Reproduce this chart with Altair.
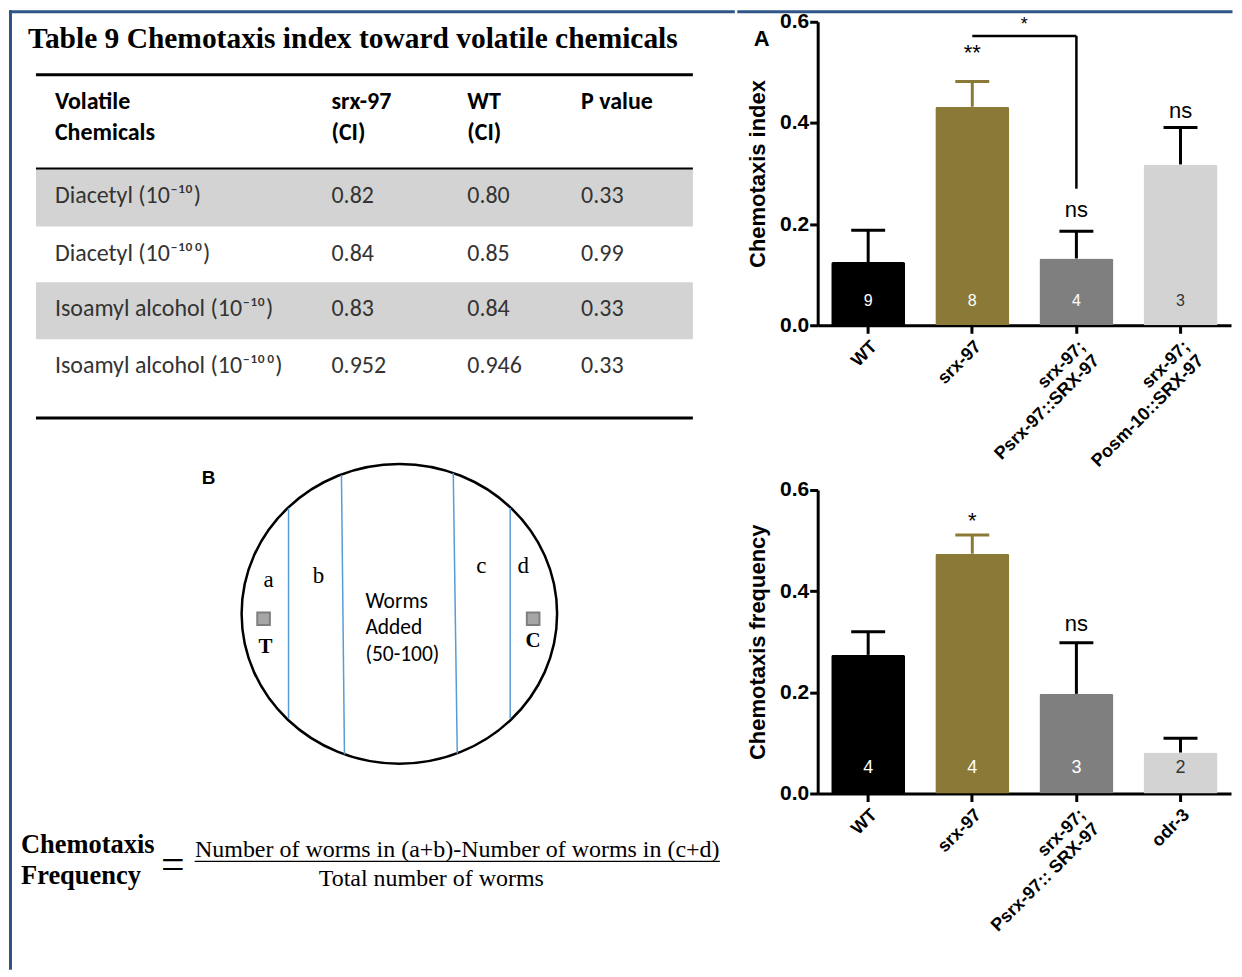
import altair as alt
import pandas as pd

# ---------------- data (content) ----------------
table_title = "Table 9 Chemotaxis index toward volatile chemicals"
table_headers = ["Volatile\nChemicals", "srx-97\n(CI)", "WT\n(CI)", "P value"]
chemicals = ["Diacetyl (10⁻¹⁰)", "Diacetyl (10⁻¹⁰⁰)",
             "Isoamyl alcohol (10⁻¹⁰)", "Isoamyl alcohol (10⁻¹⁰⁰)"]
srx97_ci = ["0.82", "0.84", "0.83", "0.952"]
wt_ci = ["0.80", "0.85", "0.84", "0.946"]
p_values = ["0.33", "0.99", "0.33", "0.33"]

panel_B_label = "B"
zone_letters = ["a", "b", "c", "d"]
spot_letters = ["T", "C"]
plate_center_text = ["Worms", "Added", "(50-100)"]
formula_lhs = ["Chemotaxis", "Frequency"]
formula_eq = "="
formula_num = "Number of worms in (a+b)-Number of worms in (c+d)"
formula_den = "Total number of worms"

panel_A_label = "A"
genotypes_A = ["WT", "srx-97", "srx-97;\nPsrx-97::SRX-97", "srx-97;\nPosm-10::SRX-97"]
ci_mean_A = [0.125, 0.432, 0.132, 0.318]
ci_sem_A = [0.063, 0.050, 0.054, 0.073]
n_A = ["9", "8", "4", "3"]
sig_A = ["", "**", "ns", "ns"]
sig_level_A = [0.0, 0.539, 0.227, 0.424]
bracket_A = {"from": "srx-97", "to": "srx-97;\nPsrx-97::SRX-97", "top": 0.572, "end": 0.270,
             "label": "*", "label_y": 0.594}

genotypes_B = ["WT", "srx-97", "srx-97;\nPsrx-97:: SRX-97", "odr-3"]
cf_mean_B = [0.274, 0.474, 0.197, 0.081]
cf_sem_B = [0.046, 0.037, 0.101, 0.028]
n_B = ["4", "4", "3", "2"]
sig_B = ["", "*", "ns", ""]
sig_level_B = [0.0, 0.539, 0.336, 0.0]

y_ticks = [0.0, 0.2, 0.4, 0.6]

# ---------------- style ----------------
bar_colors = ["#000000", "#8b7a37", "#7f7f7f", "#d3d3d3"]
err_colors = ["#000000", "#8b7a37", "#000000", "#000000"]
n_colors = ["#ffffff", "#ffffff", "#ffffff", "#333333"]
border_color = "#2f5587"
row_gray = "#d3d3d3"
line_blue = "#5b9bd5"
SERIF = "Liberation Serif"
SANS_T = "Carlito, Lato, Open Sans"
ARIAL = "Liberation Sans"

# ---------------- left panel layout (pixel-like canvas) ----------------
TOP = 13            # canvas units kept above the plot origins
FRAME_Y = 3         # frame line level on the canvas
WL, HL_END = 727, 961
xs = alt.Scale(domain=[0, WL], nice=False, zero=False)
ys = alt.Scale(domain=[TOP, HL_END], reverse=True, nice=False, zero=False)
X = alt.X("x:Q", scale=xs, axis=None)
Y = alt.Y("y:Q", scale=ys, axis=None)

col_x = [46, 323, 459, 573]
head_y = [93, 124]
row_y = [188, 246, 301, 358]
row_band = [(160, 218), (218, 274), (274, 331), (331, 388)]


def text_layer(rows, **kw):
    return alt.Chart(pd.DataFrame(rows)).mark_text(**kw).encode(x=X, y=Y, text="t:N")


layers = []
# frame lines
layers.append(alt.Chart(pd.DataFrame([
    {"x": 1.5, "x2": WL - 1.5, "y": FRAME_Y, "y2": FRAME_Y},
    {"x": 1.5, "x2": 1.5, "y": FRAME_Y, "y2": HL_END},
])).mark_rule(color=border_color, strokeWidth=3, strokeCap="square").encode(
    x=X, x2="x2:Q", y=Y, y2="y2:Q"))

# gray bands of the table
layers.append(alt.Chart(pd.DataFrame([
    {"x": 27, "x2": 685, "y": row_band[i][0], "y2": row_band[i][1]} for i in (0, 2)
])).mark_rect(color=row_gray).encode(x=X, x2="x2:Q", y=Y, y2="y2:Q"))

# table rules
layers.append(alt.Chart(pd.DataFrame([
    {"x": 27, "x2": 685, "y": 66, "w": 3},
    {"x": 27, "x2": 685, "y": 160, "w": 2},
    {"x": 27, "x2": 685, "y": 410, "w": 3},
])).mark_rule(color="#000000").encode(x=X, x2="x2:Q", y=Y,
                                       strokeWidth=alt.StrokeWidth("w:Q", scale=None)))

layers.append(text_layer([{"x": 19, "y": 30, "t": table_title}],
                         font=SERIF, fontSize=29.5, fontWeight="bold", align="left",
                         baseline="middle", color="#000000"))

head_rows = []
for c, h in enumerate(table_headers):
    for k, line in enumerate(h.split("\n")):
        head_rows.append({"x": col_x[c], "y": head_y[k], "t": line})
layers.append(text_layer(head_rows, font=SANS_T, fontSize=24, fontWeight="bold",
                         align="left", baseline="middle", color="#000000"))

body_rows = []
for r in range(len(chemicals)):
    for c, col in enumerate([chemicals, srx97_ci, wt_ci, p_values]):
        body_rows.append({"x": col_x[c], "y": row_y[r], "t": col[r]})
layers.append(text_layer(body_rows, font=SANS_T, fontSize=24, align="left",
                         baseline="middle", color="#333333"))

# diagram B
layers.append(text_layer([{"x": 193, "y": 470, "t": panel_B_label}], font=ARIAL,
                         fontSize=19, fontWeight="bold", align="left", baseline="middle"))
layers.append(alt.Chart(pd.DataFrame([{"x": 391, "y": 606}])).mark_point(
    shape="M-1,0A1,0.95,0,1,1,1,0A1,0.95,0,1,1,-1,0Z", size=316 * 316, filled=False,
    stroke="#000000", strokeWidth=2.5, opacity=1).encode(x=X, y=Y))
layers.append(alt.Chart(pd.DataFrame([
    {"x": 280, "y": 500, "x2": 280, "y2": 711},
    {"x": 333, "y": 467, "x2": 336, "y2": 747},
    {"x": 445, "y": 465, "x2": 449, "y2": 746},
    {"x": 502, "y": 500, "x2": 502, "y2": 711},
])).mark_rule(color=line_blue, strokeWidth=1.5).encode(x=X, x2="x2:Q", y=Y, y2="y2:Q"))
layers.append(alt.Chart(pd.DataFrame([{"x": 255, "y": 611}, {"x": 525, "y": 611}])).mark_square(
    size=160, color="#a6a6a6", stroke="#7f7f7f", strokeWidth=2, opacity=1).encode(x=X, y=Y))
zone_pos = [(260, 572), (310, 568), (473, 558), (515, 558)]
layers.append(text_layer([{"x": p[0], "y": p[1], "t": t} for p, t in zip(zone_pos, zone_letters)],
                         font=SERIF, fontSize=23, align="center", baseline="middle"))
spot_pos = [(257, 639), (525, 633)]
layers.append(text_layer([{"x": p[0], "y": p[1], "t": t} for p, t in zip(spot_pos, spot_letters)],
                         font=SERIF, fontSize=21, fontWeight="bold", align="center", baseline="middle"))
layers.append(text_layer([{"x": 357, "y": 594 + 26.5 * i, "t": t} for i, t in enumerate(plate_center_text)],
                         font=SANS_T, fontSize=21.5, align="left", baseline="middle"))

# formula
layers.append(text_layer([{"x": 12, "y": 838 + 31 * i, "t": t} for i, t in enumerate(formula_lhs)],
                         font=SERIF, fontSize=26.5, fontWeight="bold", align="left", baseline="middle"))
layers.append(text_layer([{"x": 164, "y": 858, "t": formula_eq}], font=SERIF, fontSize=42,
                         align="center", baseline="middle"))
layers.append(text_layer([{"x": 449, "y": 843, "t": formula_num}], font=SERIF, fontSize=24,
                         align="center", baseline="middle"))
layers.append(alt.Chart(pd.DataFrame([{"x": 186, "x2": 712, "y": 854}])).mark_rule(
    color="#000000", strokeWidth=1.2).encode(x=X, x2="x2:Q", y=Y))
layers.append(text_layer([{"x": 423, "y": 872, "t": formula_den}], font=SERIF, fontSize=24,
                         align="center", baseline="middle"))

left = alt.layer(*layers).properties(width=WL, height=HL_END - TOP)


# ---------------- bar charts ----------------
def bar_panel(genos, means, sems, ns, sigs, sig_levels, ytitle, W, H, n_dy, n_size, extra=None):
    df = pd.DataFrame({
        "g": genos, "mean": means, "sem": sems, "n": ns, "sig": sigs, "sy": sig_levels,
        "bc": bar_colors, "ec": err_colors, "nc": n_colors,
    })
    df["upper"] = df["mean"] + df["sem"]
    df["zero"] = 0.0
    xsc = alt.Scale(domain=genos, paddingInner=0.29, paddingOuter=0.13)
    ysc = alt.Scale(domain=[0, 0.6], nice=False, zero=True)
    xenc = alt.X("g:N", sort=genos, scale=xsc, axis=alt.Axis(
        title=None, labelExpr="split(datum.label, '\\n')", labelAngle=-45,
        labelAlign="right", labelBaseline="top", labelFont=ARIAL, labelFontSize=18,
        labelFontWeight="bold", labelColor="#000000", labelPadding=4, labelLineHeight=20,
        domainColor="#000000", domainWidth=3, tickColor="#000000", tickWidth=3, tickSize=8,
        grid=False, labelLimit=400))
    yax = alt.Axis(title=ytitle, values=y_ticks, format=".1f", labelFont=ARIAL, labelFontSize=21,
                   labelFontWeight="bold", labelColor="#000000", labelPadding=1,
                   titleFont=ARIAL, titleFontSize=22, titleFontWeight="bold", titleColor="#000000",
                   titlePadding=10, domainColor="#000000", domainWidth=3, tickColor="#000000",
                   tickWidth=3, tickSize=8, grid=False)
    base = alt.Chart(df)
    bars = base.mark_bar(cornerRadiusTopLeft=2, cornerRadiusTopRight=2).encode(
        x=xenc, y=alt.Y("mean:Q", scale=ysc, axis=yax),
        color=alt.Color("bc:N", scale=None))
    err = base.mark_rule(strokeWidth=3).encode(
        x=alt.X("g:N", sort=genos), y="mean:Q", y2="upper:Q", color=alt.Color("ec:N", scale=None))
    caps = base.mark_tick(size=34, thickness=3, opacity=1).encode(
        x=alt.X("g:N", sort=genos), y="upper:Q", color=alt.Color("ec:N", scale=None))
    ntext = base.mark_text(font=ARIAL, fontSize=n_size, dy=n_dy, baseline="middle").encode(
        x=alt.X("g:N", sort=genos), y="zero:Q", text="n:N", color=alt.Color("nc:N", scale=None))
    stext = base.transform_filter("datum.sig != ''").mark_text(
        font=ARIAL, fontSize=22, baseline="middle", color="#000000").encode(
        x=alt.X("g:N", sort=genos), y="sy:Q", text="sig:N")
    parts = [bars, err, caps, ntext, stext]
    if extra:
        parts += extra
    return alt.layer(*parts).properties(width=W, height=H)


WA, HA = 414, 304
bdf = pd.DataFrame([bracket_A])
extra_A = [
    alt.Chart(bdf).mark_rule(color="#000000", strokeWidth=2.5).encode(
        x=alt.X("from:N", sort=genotypes_A), x2="to:N", y="top:Q"),
    alt.Chart(bdf).mark_rule(color="#000000", strokeWidth=2.5).encode(
        x=alt.X("to:N", sort=genotypes_A), y="top:Q", y2="end:Q"),
    alt.Chart(bdf).mark_text(font=ARIAL, fontSize=18, dx=52, baseline="middle", color="#000000").encode(
        x=alt.X("from:N", sort=genotypes_A), y="label_y:Q", text="label:N"),
    alt.Chart(pd.DataFrame({"t": [panel_A_label]})).mark_text(
        font=ARIAL, fontSize=22, fontWeight="bold", baseline="middle", align="center",
        color="#000000").encode(x=alt.value(-56), y=alt.value(17), text="t:N"),
    alt.Chart(pd.DataFrame({"k": [0]})).mark_rule(
        color=border_color, strokeWidth=3, strokeCap="square").encode(
        x=alt.value(-79), x2=alt.value(WA), y=alt.value(-10)),
]

chartA = bar_panel(genotypes_A, ci_mean_A, ci_sem_A, n_A, sig_A, sig_level_A,
                   "Chemotaxis index", WA, HA, -24, 16, extra_A)
chartB = bar_panel(genotypes_B, cf_mean_B, cf_sem_B, n_B, sig_B, sig_level_B,
                   "Chemotaxis frequency", WA, HA, -26, 18)

right = alt.vconcat(chartA, chartB, spacing=9)
chart = alt.hconcat(left, right, spacing=0).properties(padding=0).configure_view(stroke=None)

chart.save("out.html", embed_options={"renderer": "svg", "actions": False})
